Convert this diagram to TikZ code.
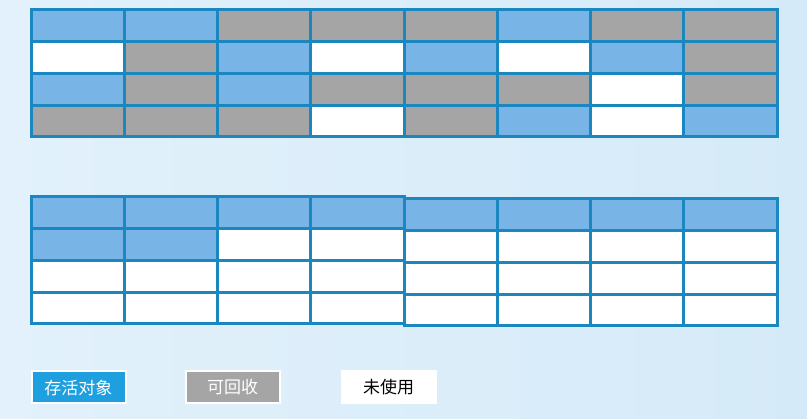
\documentclass[tikz,border=0pt]{standalone}
\usepackage{fontspec}
\newfontfamily\cjk{Noto Sans CJK SC}
\usepackage{xcolor}
\usetikzlibrary{positioning}
\definecolor{gcborder}{RGB}{26,135,192}
\definecolor{gclive}{RGB}{120,181,230}
\definecolor{gcdead}{RGB}{165,165,165}
\definecolor{gclegend}{RGB}{30,160,224}
\definecolor{gcbgA}{RGB}{226,241,251}
\definecolor{gcbgB}{RGB}{213,234,248}

\begin{document}
\begin{tikzpicture}[x=1pt, y=-1pt,
    cell/.style={draw=gcborder, line width=3pt, minimum width=93.25pt, minimum height=31.75pt, inner sep=0pt, outer sep=0pt, anchor=north west},
    live/.style={cell, fill=gclive},
    junk/.style={cell, fill=gcdead},
    free/.style={cell, fill=white},
    legend/.style={draw=white, line width=2pt, minimum width=94pt, minimum height=32pt, inner sep=0pt, font=\cjk\fontsize{17}{17}\selectfont}]
    % Background
    \useasboundingbox (0,0) rectangle (807,419);
    \shade[shading angle=60, left color=gcbgA, right color=gcbgB] (0,0) rectangle (807,419);

    % Heap before collection
    \foreach \row [count=\r from 0] in {{live,live,junk,junk,junk,live,junk,junk},
                                        {free,junk,live,free,live,free,live,junk},
                                        {live,junk,live,junk,junk,junk,free,junk},
                                        {junk,junk,junk,free,junk,live,free,live}} {
        \foreach \c [count=\k from 0] in \row {
            \node[\c] (top-\r-\k) at ({31+\k*93.25}, {10+\r*31.75}) {};
        }
    }

    % Heap after compaction
    \foreach \row [count=\r from 0] in {{live,live,live,live,live,live,live,live},
                                        {live,live,free,free,free,free,free,free},
                                        {free,free,free,free,free,free,free,free},
                                        {free,free,free,free,free,free,free,free}} {
        \foreach \c [count=\k from 0] in \row {
            \node[\c] (bot-\r-\k) at ({31+\k*93.25}, {197+\r*31.75+(\k>3)*2}) {};
        }
    }

    % Legend
    \node[legend, fill=gclegend, text=white] (keylive) at (78.5,387.5) {存活对象};
    \node[legend, fill=gcdead, text=white, right=58pt of keylive] (keyjunk) {可回收};
    \node[legend, fill=white, text=black, right=60pt of keyjunk] (keyfree) {未使用};
\end{tikzpicture}
\end{document}
